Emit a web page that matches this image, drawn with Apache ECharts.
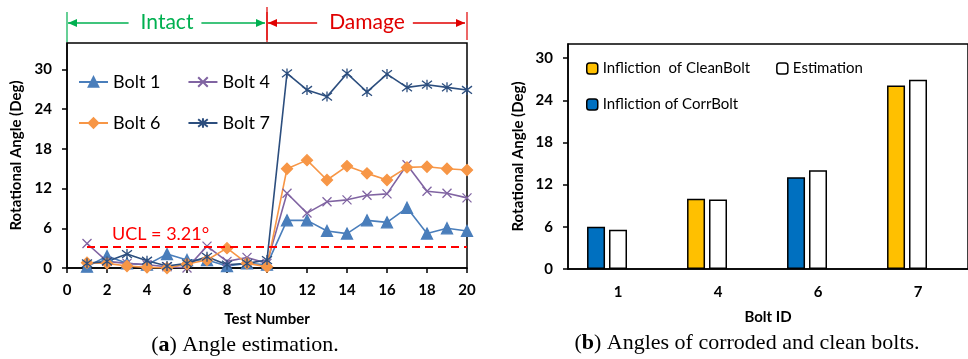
<!DOCTYPE html>
<html>
<head>
<meta charset="utf-8">
<script src="https://cdn.jsdelivr.net/npm/echarts@6/dist/echarts.min.js"></script>
<style>
  html, body { margin: 0; padding: 0; background: #fff; }
  #main { width: 968px; height: 359px; }
</style>
</head>
<body>
<div id="main"></div>
<script>
// (a) angle estimation per test number
var testNumbers = [1, 2, 3, 4, 5, 6, 7, 8, 9, 10, 11, 12, 13, 14, 15, 16, 17, 18, 19, 20];
var bolt1 = [0.2, 1.8, 0.7, 0.5, 2.1, 1.2, 1.2, 0.3, 0.7, 0.5, 7.2, 7.2, 5.6, 5.2, 7.2, 6.9, 9.1, 5.2, 6.0, 5.6];
var bolt4 = [3.7, 1.0, 0.7, 0.5, 0.2, 0.0, 3.3, 1.0, 1.6, 0.7, 11.3, 8.3, 10.0, 10.3, 11.0, 11.2, 15.6, 11.6, 11.3, 10.6];
var bolt6 = [0.8, 0.7, 0.3, 0.1, 0.0, 0.6, 1.2, 3.0, 0.7, 0.2, 15.0, 16.3, 13.3, 15.4, 14.3, 13.3, 15.2, 15.3, 15.0, 14.8];
var bolt7 = [0.7, 1.0, 2.1, 1.1, 0.3, 0.7, 1.7, 0.5, 0.7, 1.2, 29.4, 26.9, 25.9, 29.4, 26.6, 29.3, 27.3, 27.7, 27.3, 26.9];
var ucl = 3.21;
var angleTicksA = [0, 6, 12, 18, 24, 30];
var phases = [
  { name: 'Intact', from: 0, to: 10, color: '#00B050' },
  { name: 'Damage', from: 10, to: 20, color: '#E00000' }
];

// (b) corroded vs clean bolts
var boltIds = ['1', '4', '6', '7'];
var cleanBolt = [null, 10.0, null, 26.1];
var corrBolt = [6.0, null, 13.05, null];
var estimation = [5.6, 9.9, 14.05, 26.9];
var angleTicksB = [0, 6, 12, 18, 24, 30];

var font = 'Lato';
var chart = echarts.init(document.getElementById('main'));

function pairs(vals) {
  return testNumbers.map(function (t, i) { return [t, vals[i]]; });
}

var xMark = 'path://M0,0L10,10M10,0L0,10';
var starMark = 'path://M0,0L10,10M10,0L0,10M5,-1.5L5,11.5';

function lineSeries(name, vals, color, symbol, size) {
  return {
    type: 'line', name: name, xAxisIndex: 0, yAxisIndex: 0,
    data: pairs(vals),
    symbol: symbol, symbolSize: size,
    lineStyle: { color: color, width: 1.6 },
    itemStyle: { color: color, borderColor: color, borderWidth: 1.3 },
    emphasis: { disabled: true },
    z: 3
  };
}

var axisTextA = { color: '#000', fontFamily: font, fontWeight: 'bold', fontSize: 15 };
var axisName = { color: '#000', fontFamily: font, fontWeight: 'bold', fontSize: 15 };

var series = [
  lineSeries('Bolt 1', bolt1, '#4A7EBB', 'triangle', 11),
  lineSeries('Bolt 4', bolt4, '#8064A2', xMark, 9),
  lineSeries('Bolt 6', bolt6, '#F79646', 'diamond', 11),
  lineSeries('Bolt 7', bolt7, '#2C4E7E', starMark, 10)
];
series[0].markLine = {
  silent: true, symbol: 'none',
  lineStyle: { color: '#FF0000', type: [8, 5], width: 2 },
  label: {
    show: true, position: 'insideStartTop', distance: [25, 4],
    formatter: 'UCL = ' + ucl + '°', color: '#FF0000', fontFamily: font, fontSize: 18
  },
  data: [[{ coord: [testNumbers[0], ucl] }, { coord: [testNumbers[testNumbers.length - 1], ucl] }]]
};

var barBase = { type: 'bar', xAxisIndex: 1, yAxisIndex: 1, barWidth: 18, barGap: '22%',
  emphasis: { disabled: true } };
series.push(Object.assign({}, barBase, { name: 'Infliction  of CleanBolt', stack: 'infl', data: cleanBolt,
  itemStyle: { color: '#FFC000', borderColor: '#000', borderWidth: 1.5 } }));
series.push(Object.assign({}, barBase, { name: 'Infliction of CorrBolt', stack: 'infl', data: corrBolt,
  itemStyle: { color: '#0070C0', borderColor: '#000', borderWidth: 1.5 } }));
series.push(Object.assign({}, barBase, { name: 'Estimation', stack: 'est', data: estimation,
  itemStyle: { color: '#FFFFFF', borderColor: '#000', borderWidth: 1.5 } }));
// empty third slot, as in the original layout
series.push(Object.assign({}, barBase, { name: 'pad', stack: 'pad', data: [] }));

var legendText = { color: '#000', fontFamily: font, fontSize: 18 };
var legendTextB = { color: '#000', fontFamily: font, fontSize: 15 };

chart.setOption({
  animation: false,
  grid: [
    { left: 67, top: 43, width: 400, height: 225, show: true, borderColor: '#000', borderWidth: 1.5 },
    { left: 568, top: 44, width: 404, height: 225, show: true, borderColor: '#000', borderWidth: 1.5 }
  ],
  legend: [
    { data: ['Bolt 1', 'Bolt 4'], left: 73, top: 68, itemWidth: 29, itemHeight: 12, itemGap: 27, textStyle: legendText },
    { data: ['Bolt 6', 'Bolt 7'], left: 73, top: 109, itemWidth: 29, itemHeight: 12, itemGap: 27, textStyle: legendText },
    { data: ['Infliction  of CleanBolt', 'Estimation'], left: 581, top: 56, itemWidth: 11, itemHeight: 11, itemGap: 26,
      itemStyle: { borderColor: '#000', borderWidth: 1.5 }, textStyle: legendTextB },
    { data: ['Infliction of CorrBolt'], left: 581, top: 92, itemWidth: 11, itemHeight: 11,
      itemStyle: { borderColor: '#000', borderWidth: 1.5 }, textStyle: legendTextB }
  ],
  xAxis: [
    { gridIndex: 0, type: 'value', min: 0, max: 20, interval: 2,
      name: 'Test Number', nameLocation: 'middle', nameGap: 44, nameTextStyle: axisName,
      axisLine: { lineStyle: { color: '#000', width: 1.5 } },
      axisTick: { length: 5, lineStyle: { color: '#000', width: 1.5 } },
      axisLabel: Object.assign({ margin: 15 }, axisTextA), splitLine: { show: false } },
    { gridIndex: 1, type: 'category', data: boltIds,
      name: 'Bolt ID', nameLocation: 'middle', nameGap: 41, nameTextStyle: axisName,
      axisLine: { lineStyle: { color: '#000', width: 1.5 } },
      axisTick: { length: 5, lineStyle: { color: '#000', width: 1.5 } },
      axisLabel: Object.assign({ margin: 16 }, axisTextA) }
  ],
  yAxis: [
    { gridIndex: 0, type: 'value', min: 0, max: 34,
      name: 'Rotational Angle (Deg)', nameLocation: 'middle', nameGap: 43, nameTextStyle: axisName,
      axisLine: { show: true, lineStyle: { color: '#000', width: 1.5 } },
      axisTick: { show: true, length: 5, customValues: angleTicksA, lineStyle: { color: '#000', width: 1.5 } },
      axisLabel: Object.assign({ margin: 15, customValues: angleTicksA }, axisTextA), splitLine: { show: false } },
    { gridIndex: 1, type: 'value', min: 0, max: 32,
      name: 'Rotational Angle (Deg)', nameLocation: 'middle', nameGap: 42, nameTextStyle: axisName,
      axisLine: { show: true, lineStyle: { color: '#000', width: 1.5 } },
      axisTick: { show: true, length: 5, customValues: angleTicksB, lineStyle: { color: '#000', width: 1.5 } },
      axisLabel: Object.assign({ margin: 15, customValues: angleTicksB }, axisTextA), splitLine: { show: false } }
  ],
  series: series
});

// phase annotations above panel (a)
var graphics = [];
var arrowY = 23;
var measureCtx = document.createElement('canvas').getContext('2d');
measureCtx.font = '21px Lato';
function arrow(x1, x2, color, pointLeft) {
  graphics.push({ type: 'line', shape: { x1: x1, y1: arrowY, x2: x2, y2: arrowY },
    style: { stroke: color, lineWidth: 1.5 } });
  var tip = pointLeft ? x1 : x2;
  var back = pointLeft ? tip + 9 : tip - 9;
  graphics.push({ type: 'polygon', shape: { points: [[tip, arrowY], [back, arrowY - 4], [back, arrowY + 4]] },
    style: { fill: color } });
}
phases.forEach(function (p) {
  var x0 = chart.convertToPixel({ xAxisIndex: 0 }, p.from);
  var x1 = chart.convertToPixel({ xAxisIndex: 0 }, p.to);
  var cx = (x0 + x1) / 2;
  var half = measureCtx.measureText(p.name).width / 2;
  graphics.push({ type: 'line', shape: { x1: x0, y1: p.from === 0 ? 12 : 7, x2: x0, y2: 42 },
    style: { stroke: p.color, lineWidth: 1.2 } });
  graphics.push({ type: 'line', shape: { x1: x1, y1: 12, x2: x1, y2: 40 },
    style: { stroke: '#E00000', lineWidth: 1.2 } });
  graphics.push({ type: 'text', x: cx - half, y: arrowY - 11,
    style: { text: p.name, fill: p.color, fontFamily: font, fontSize: 21 } });
  arrow(x0 + 1, cx - half - 12, p.color, true);
  arrow(cx + half + 8, x1 - 2, p.color, false);
});

// sub-captions
function caption(letter, rest, cx, cy) {
  graphics.push({ type: 'text', x: cx, y: cy,
    style: { text: '{n|(}{b|' + letter + '}{n|) ' + rest + '}',
      align: 'center', verticalAlign: 'middle',
      rich: {
        n: { fontFamily: 'Liberation Serif', fontSize: 22, fill: '#000' },
        b: { fontFamily: 'Liberation Serif', fontSize: 22, fontWeight: 'bold', fill: '#000' }
      } } });
}
caption('a', 'Angle estimation.', 245, 345);
caption('b', 'Angles of corroded and clean bolts.', 747, 343);

chart.setOption({ graphic: graphics });
</script>
</body>
</html>
